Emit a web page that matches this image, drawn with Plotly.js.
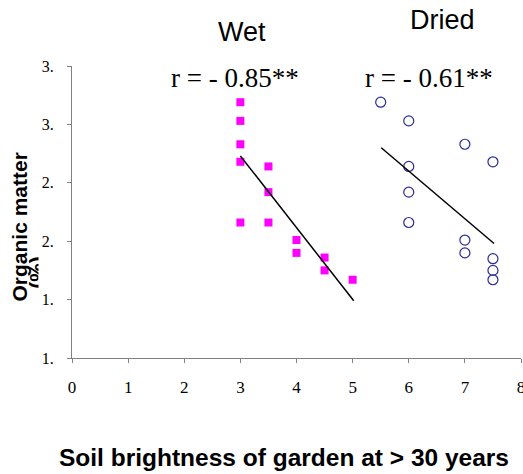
<!DOCTYPE html>
<html>
<head>
<meta charset="utf-8">
<script src="https://cdn.plot.ly/plotly-3.0.1.min.js"></script>
<style>html,body{margin:0;padding:0;background:#fff;}#chart{width:523px;height:474px;}</style>
</head>
<body>
<div id="chart"></div>
<script>
// Wet soil brightness vs organic matter
const wetX = [3, 3, 3, 3, 3, 3.5, 3.5, 3.5, 4, 4, 4.5, 4.5, 5];
const wetY = [3.19, 3.03, 2.83, 2.68, 2.16, 2.64, 2.42, 2.16, 2.01, 1.90, 1.86, 1.75, 1.67];
// Dried soil brightness vs organic matter
const driedX = [5.5, 6, 6, 6, 6, 7, 7, 7, 7.5, 7.5, 7.5, 7.5];
const driedY = [3.19, 3.03, 2.64, 2.42, 2.16, 2.83, 2.01, 1.90, 2.68, 1.85, 1.75, 1.67];
// Trend lines (end points)
const wetFitX = [3.0, 5.02];
const wetFitY = [2.73, 1.49];
const driedFitX = [5.51, 7.52];
const driedFitY = [2.80, 1.98];
// Axis ticks
const xTickVals = [0, 1, 2, 3, 4, 5, 6, 7, 8];
const yTickVals = [1.0, 1.5, 2.0, 2.5, 3.0, 3.5];
const yTickText = ["1.", "1.", "2.", "2.", "3.", "3."];
// Labels
const seriesLabels = ["Wet", "Dried"];
const rLabels = ["r = - 0.85**", "r = - 0.61**"];

const serif = "Liberation Serif, Times New Roman, serif";
const sans = "Liberation Sans, Arial, sans-serif";

const traces = [
  {x: wetX, y: wetY, mode: "markers", type: "scatter",
   marker: {symbol: "square", size: 8, color: "#FF00FF"}, cliponaxis: false},
  {x: driedX, y: driedY, mode: "markers", type: "scatter",
   marker: {symbol: "circle-open", size: 10, color: "#2B2B9A", line: {width: 1.2}}, cliponaxis: false},
  {x: wetFitX, y: wetFitY, mode: "lines", type: "scatter", line: {color: "#000", width: 1.5}},
  {x: driedFitX, y: driedFitY, mode: "lines", type: "scatter", line: {color: "#000", width: 1.5}}
];

const layout = {
  width: 523, height: 474,
  margin: {l: 72, r: 2, t: 66, b: 116},
  paper_bgcolor: "#fff", plot_bgcolor: "#fff",
  showlegend: false,
  xaxis: {range: [0, 8], tickvals: xTickVals, showgrid: false, zeroline: false,
          showline: true, linecolor: "#808080", linewidth: 1,
          ticks: "outside", ticklen: 4, tickcolor: "#808080",
          ticklabelstandoff: 10, ticklabeloverflow: "allow",
          tickfont: {family: serif, size: 17, color: "#000"}},
  yaxis: {range: [1, 3.5], tickvals: yTickVals, ticktext: yTickText, showgrid: false, zeroline: false,
          showline: true, linecolor: "#808080", linewidth: 1,
          ticks: "outside", ticklen: 4, tickcolor: "#808080",
          ticklabelstandoff: 10,
          tickfont: {family: serif, size: 16, color: "#000"}},
  annotations: [
    {text: seriesLabels[0], xref: "x", yref: "paper", x: 3.03, y: 1.116, showarrow: false,
     xanchor: "center", yanchor: "middle", font: {family: sans, size: 27, color: "#000"}},
    {text: seriesLabels[1], xref: "x", yref: "paper", x: 6.61, y: 1.158, showarrow: false,
     xanchor: "center", yanchor: "middle", font: {family: sans, size: 27, color: "#000"}},
    {text: rLabels[0], xref: "x", yref: "paper", x: 2.90, y: 0.959, showarrow: false,
     xanchor: "center", yanchor: "middle", font: {family: serif, size: 27, color: "#000"}},
    {text: rLabels[1], xref: "x", yref: "paper", x: 6.36, y: 0.959, showarrow: false,
     xanchor: "center", yanchor: "middle", font: {family: serif, size: 27, color: "#000"}},
    {text: "<b>Organic matter</b>", xref: "paper", yref: "paper", x: -0.116, y: 0.45, textangle: -90,
     showarrow: false, xanchor: "center", yanchor: "middle", font: {family: sans, size: 21, color: "#000"}},
    {text: "<b>(%)</b>", xref: "paper", yref: "paper", x: -0.078, y: 0.295, textangle: -90,
     showarrow: false, xanchor: "center", yanchor: "middle", font: {family: sans, size: 21, color: "#000"}},
    {text: " ", xref: "paper", yref: "paper", x: -0.078, y: 0.295, xanchor: "left", yanchor: "middle",
     xshift: 1, width: 14, height: 38, bgcolor: "#fff", borderpad: 0, showarrow: false,
     font: {family: sans, size: 10, color: "#fff"}},
    {text: "<b>Soil brightness of garden at > 30 years</b>", xref: "paper", yref: "paper", x: 0.472, y: -0.34,
     showarrow: false, xanchor: "center", yanchor: "middle", font: {family: sans, size: 24.5, color: "#000"}}
  ]
};

Plotly.newPlot("chart", traces, layout, {staticPlot: true, displayModeBar: false});
</script>
</body>
</html>
